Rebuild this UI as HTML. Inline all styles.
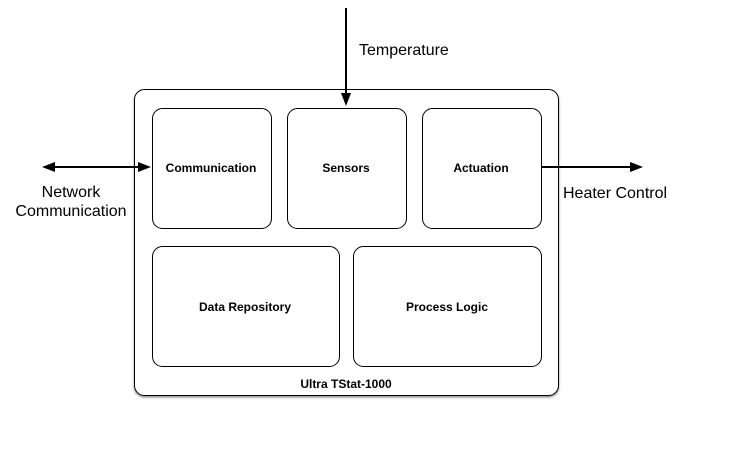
<!DOCTYPE html>
<html><head><style>body{margin:0;background:#fff}</style></head><body>
<svg width="746" height="467" xmlns="http://www.w3.org/2000/svg" font-family="Liberation Sans, sans-serif">
<defs>
<filter id="s" x="-10%" y="-10%" width="130%" height="130%"><feDropShadow dx="0" dy="1.5" stdDeviation="1" flood-color="#000" flood-opacity="0.45"/></filter>
</defs>
<g fill="#fff" stroke="#000" stroke-width="1" filter="url(#s)">
<rect x="134.5" y="89.5" width="424" height="306" rx="10"/>
<rect x="152.5" y="108.5" width="119" height="120" rx="10"/>
<rect x="287.5" y="108.5" width="119" height="120" rx="10"/>
<rect x="422.5" y="108.5" width="119" height="120" rx="10"/>
<rect x="152.5" y="246.5" width="187" height="120" rx="10"/>
<rect x="353.5" y="246.5" width="188" height="120" rx="10"/>
</g>
<g font-size="12" font-weight="bold" text-anchor="middle">
<text x="211" y="172">Communication</text>
<text x="346" y="172">Sensors</text>
<text x="481" y="172">Actuation</text>
<text x="245" y="311">Data Repository</text>
<text x="447" y="311">Process Logic</text>
<text x="346" y="388">Ultra TStat-1000</text>
</g>
<g stroke="#000" stroke-width="2">
<line x1="52" y1="167" x2="140" y2="167"/>
<line x1="346" y1="8" x2="346" y2="96"/>
<line x1="541" y1="167" x2="632" y2="167"/>
</g>
<g fill="#000">
<polygon points="42,167 55,162 55,172"/>
<polygon points="151,167 138,162 138,172"/>
<polygon points="346,106 341,93 351,93"/>
<polygon points="643,167 630,162 630,172"/>
</g>
<g font-size="16">
<text x="359" y="55">Temperature</text>
<text x="71" y="197" text-anchor="middle">Network</text>
<text x="71" y="216" text-anchor="middle">Communication</text>
<text x="563" y="198">Heater Control</text>
</g>
</svg>
</body></html>
